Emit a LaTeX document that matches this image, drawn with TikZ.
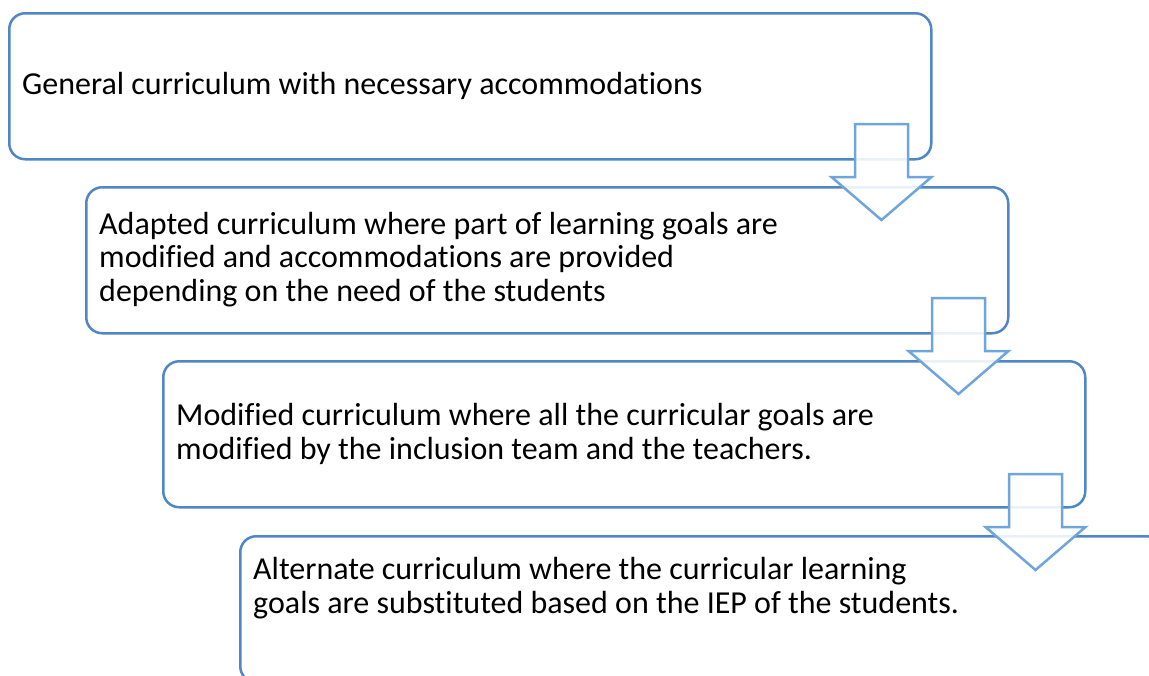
\documentclass[tikz,border=0pt]{standalone}
\usepackage{fontspec}
\setmainfont[Ligatures=NoCommon]{Carlito}
\usetikzlibrary{calc}
\definecolor{boxline}{HTML}{4F86C6}
\definecolor{arrowline}{HTML}{6FA5DC}
\tikzset{
	stage/.style={draw=boxline, line width=2.5pt, rounded corners=16pt, minimum width=922pt, minimum height=146pt, anchor=north west, inner sep=0pt},
	stagetext/.style={anchor=base west, align=left, inner sep=0pt, font=\fontsize{32}{33.5}\selectfont}
}
\newcommand{\blockarrow}[3] % name, x of shaft centre, y of shaft top
{
	% hollow down arrow, white fill lets the box lines show faintly
	\draw[arrowline, line width=2.5pt, fill=white, fill opacity=0.88, miter limit=10]
		(#2-26.5,#3) -- (#2+26.5,#3) -- (#2+26.5,#3+53) -- (#2+50,#3+53)
		-- (#2,#3+96) -- (#2-50,#3+53) -- (#2-26.5,#3+53) -- cycle;
	\coordinate (#1) at (#2,#3+96);
}

\begin{document}
\begin{tikzpicture}[x=1pt, y=-1pt]
	% page: 1149 x 675
	\useasboundingbox (0,0) rectangle (1149,675);

	% stages, each one moved by (77,174)
	\node[stage] (general) at (8,12) {};
	\node[stage] (adapted) at (85,186) {};
	\node[stage] (modified) at (162,360) {};
	\node[stage] (alternate) at (239,535) {};

	% texts (base = last line)
	\node[stagetext] (tgeneral) at (22,94) {General curriculum with necessary accommodations};
	\node[stagetext] (tadapted) at (99,301) {Adapted curriculum where part of learning goals are\\modified and accommodations are provided\\depending on the need of the students};
	\node[stagetext] (tmodified) at (176,459) {Modified curriculum where all the curricular goals are\\modified by the inclusion team and the teachers.};
	\node[stagetext] (talternate) at (253,613) {Alternate curriculum where the curricular learning\\goals are substituted based on the IEP of the students.};

	% arrows over the corners
	\blockarrow{a1}{881.5}{124};
	\blockarrow{a2}{958.5}{298};
	\blockarrow{a3}{1035.5}{474};
\end{tikzpicture}
\end{document}
